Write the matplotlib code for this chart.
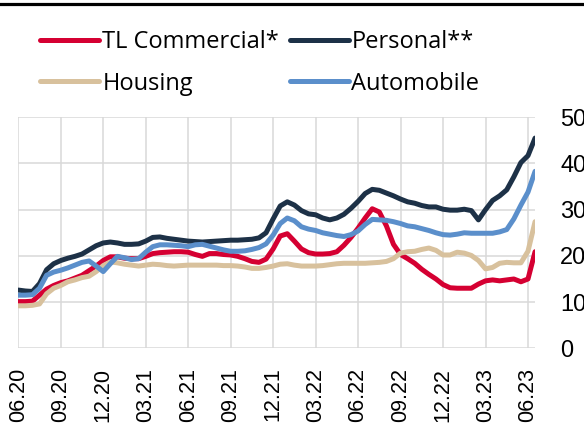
import matplotlib

matplotlib.use("Agg")
import matplotlib.pyplot as plt
from matplotlib.lines import Line2D

# months since 06.20, half-month steps
months = [i * 0.5 for i in range(74)]

tl_commercial = [
    10.1, 10.1, 10.2, 11.5, 12.8, 13.6, 14.2, 14.6, 15.2, 15.8,
    16.8, 17.8, 19.0, 19.8, 19.8, 19.5, 19.4, 19.4, 19.9, 20.5,
    20.7, 20.8, 20.9, 20.9, 20.8, 20.3, 19.9, 20.5, 20.5, 20.3,
    20.2, 19.9, 19.4, 18.8, 18.6, 19.3, 21.5, 24.3, 24.8, 23.2,
    21.5, 20.7, 20.4, 20.4, 20.5, 20.9, 22.3, 24.0, 26.0, 28.2,
    30.2, 29.5, 26.5, 22.5, 20.3, 19.4, 18.4, 17.1, 16.0, 15.0,
    13.8, 13.1, 13.0, 13.0, 13.0, 13.9, 14.6, 14.8, 14.6, 14.8,
    15.0, 14.4, 15.0, 20.9,
]
personal = [
    12.6, 12.4, 12.3, 14.0, 17.0, 18.3, 19.0, 19.5, 19.9, 20.4,
    21.3, 22.2, 22.8, 23.0, 22.8, 22.5, 22.5, 22.6, 23.2, 24.0,
    24.1, 23.8, 23.6, 23.4, 23.2, 23.1, 23.0, 23.1, 23.2, 23.3,
    23.4, 23.4, 23.5, 23.6, 23.9, 25.0, 28.0, 30.8, 31.7, 31.0,
    29.8, 29.1, 28.9, 28.2, 27.8, 28.2, 29.0, 30.3, 31.8, 33.5,
    34.4, 34.2, 33.6, 33.0, 32.3, 31.7, 31.4, 30.9, 30.6, 30.6,
    30.1, 29.9, 29.9, 30.1, 29.8, 27.8, 30.0, 32.0, 33.0, 34.3,
    37.1, 40.2, 41.7, 45.5,
]
housing = [
    9.2, 9.2, 9.3, 9.6, 11.8, 13.0, 13.6, 14.4, 14.8, 15.3,
    15.6, 16.6, 17.9, 18.7, 18.5, 18.2, 18.0, 17.8, 18.0, 18.2,
    18.1, 17.9, 17.8, 17.9, 18.0, 18.0, 18.0, 18.0, 18.0, 17.9,
    17.9, 17.8, 17.6, 17.3, 17.3, 17.5, 17.8, 18.2, 18.3, 18.0,
    17.8, 17.8, 17.8, 17.9, 18.1, 18.3, 18.4, 18.4, 18.4, 18.4,
    18.5, 18.6, 18.8, 19.4, 20.6, 20.9, 21.0, 21.4, 21.7, 21.2,
    20.2, 20.2, 20.8, 20.6, 20.1, 19.0, 17.2, 17.5, 18.4, 18.6,
    18.5, 18.5, 21.0, 27.4,
]
automobile = [
    11.5, 11.5, 11.6, 13.0, 15.8, 16.5, 16.9, 17.4, 18.0, 18.6,
    18.9, 17.8, 16.6, 18.3, 19.9, 19.6, 19.2, 19.4, 20.8, 22.0,
    22.4, 22.4, 22.3, 22.2, 22.0, 22.4, 22.5, 22.1, 21.7, 21.3,
    21.0, 21.0, 21.1, 21.4, 21.8, 22.6, 24.5, 27.0, 28.2, 27.6,
    26.3, 25.8, 25.5, 25.0, 24.7, 24.4, 24.2, 24.6, 25.4, 26.8,
    27.9, 27.8, 27.7, 27.4, 27.0, 26.5, 26.3, 25.9, 25.5, 25.0,
    24.6, 24.5, 24.7, 25.0, 24.9, 24.9, 24.9, 24.9, 25.2, 25.7,
    28.0, 31.0, 33.8, 38.3,
]

tick_positions = list(range(0, 37, 3))
tick_labels = ["06.20", "09.20", "12.20", "03.21", "06.21", "09.21", "12.21",
               "03.22", "06.22", "09.22", "12.22", "03.23", "06.23"]

series = [
    ("TL Commercial*", tl_commercial, "#d50032"),
    ("Personal**", personal, "#1d3147"),
    ("Housing", housing, "#d8c19d"),
    ("Automobile", automobile, "#5b8fcb"),
]

fig = plt.figure(figsize=(5.84, 4.25), dpi=100)
ax = fig.add_axes([0.0313, 0.1805, 0.8849, 0.5435])

lines = {}
for name, values, color in series:
    (ln,) = ax.plot(months, values, color=color, linewidth=3.6,
                    solid_capstyle="round", label=name)
    lines[name] = ln

ax.set_xlim(0, 36.5)
ax.set_ylim(0, 50)
ax.set_xticks(tick_positions)
ax.set_xticklabels(tick_labels, rotation=90, fontfamily="Liberation Sans", fontsize=15.5)
ax.set_yticks(range(0, 51, 10))
ax.yaxis.tick_right()
for lab in ax.get_yticklabels():
    lab.set_fontfamily("Liberation Sans")
    lab.set_fontsize(17)
ax.tick_params(axis="x", length=0, pad=14)
ax.tick_params(axis="y", length=0, pad=18)
ax.grid(color="#d9d9d9", linewidth=1.1)
ax.set_axisbelow(True)
for sp in ax.spines.values():
    sp.set_visible(False)

order = ["TL Commercial*", "Housing", "Personal**", "Automobile"]
fig.legend([lines[n] for n in order], order, loc="upper left",
           bbox_to_anchor=(0.053, 0.952), ncol=2, frameon=False,
           prop={"family": "Open Sans", "size": 17},
           handlelength=2.5, handletextpad=0.12, columnspacing=0.45,
           labelspacing=0.75, borderaxespad=0)

fig.add_artist(Line2D([0, 1], [1 - 3.7 / 425, 1 - 3.7 / 425],
                      transform=fig.transFigure, color="black", linewidth=2.3))

fig.savefig("out.png", dpi=100)
